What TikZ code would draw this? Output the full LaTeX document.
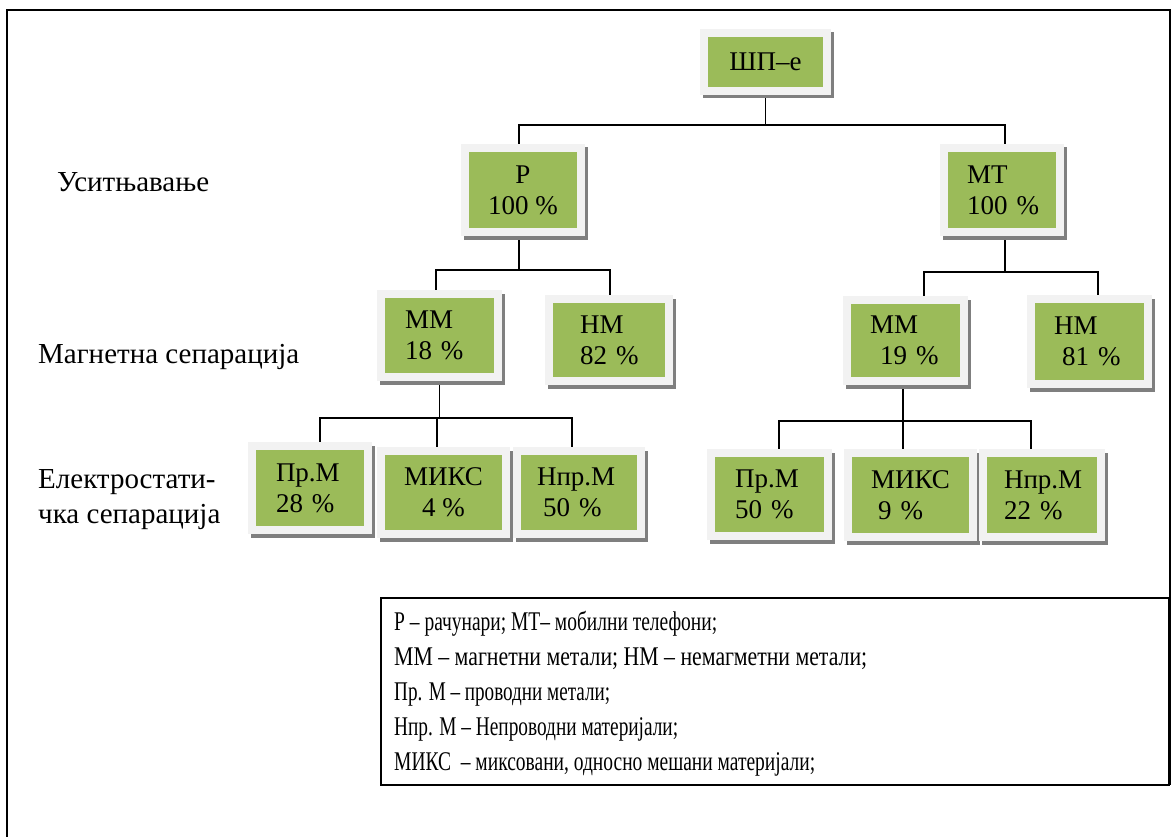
\documentclass[tikz,border=0pt]{standalone}
\usepackage{fontspec}
\usepackage{graphicx}
\setmainfont{Liberation Serif}
\usetikzlibrary{backgrounds}
\definecolor{boxgreen}{HTML}{9BBB59}
\definecolor{framegray}{HTML}{F2F2F2}
\definecolor{shadowgray}{HTML}{7F7F7F}
\newcommand{\legline}[2]{\resizebox{#1pt}{\height}{#2}}
\begin{document}
\begin{tikzpicture}[x=1pt,y=-1pt,
  every node/.style={font=\fontsize{27}{31}\selectfont},
  gbox/.style={fill=boxgreen, inner ysep=0pt,
    preaction={fill=shadowgray, draw=shadowgray, line width=16pt, transform canvas={shift={(3pt,-3.5pt)}}},
    preaction={draw=framegray, line width=16pt}},
  conn/.style={draw=black, line width=1.8pt},
  lbl/.style={anchor=west, inner sep=0pt, align=left, font=\fontsize{29}{35}\selectfont}]
\useasboundingbox (0,0) rectangle (1174,837);
% outer frame and legend box
\draw[line width=2.2pt] (7,837) -- (7,10) -- (1170,10) -- (1170,785);
\draw[line width=1.8pt] (381,598) rectangle (1169,785);

% tree nodes
\node[gbox, minimum width=115pt, minimum height=50pt, align=center] (root) at (765.5,62) {ШП–е};
\node[gbox, minimum width=108pt, minimum height=76pt, align=center] (P) at (523,190) {Р\\100~\%};
\node[gbox, minimum width=108pt, minimum height=76pt, text width=70pt, inner xsep=19pt, align=left] (MT) at (1002,190) {МТ\\100~\%};
\node[gbox, minimum width=109pt, minimum height=75pt, text width=69pt, inner xsep=20pt, align=left] (MML) at (439.5,335.5) {ММ\\18~\%};
\node[gbox, minimum width=112pt, minimum height=74pt, text width=58pt, inner xsep=27pt, align=left] (HML) at (609,340) {НМ\\82~\%};
\node[gbox, minimum width=109pt, minimum height=73pt, text width=71pt, inner xsep=19pt, align=left] (MMR) at (905.5,340.5) {ММ\\\hspace*{10pt}19~\%};
\node[gbox, minimum width=109pt, minimum height=77pt, text width=71pt, inner xsep=19pt, align=left] (HMR) at (1089.5,341.5) {НМ\\\hspace*{8pt}81~\%};
\node[gbox, minimum width=108pt, minimum height=76pt, text width=68pt, inner xsep=20pt, align=left] (PrML) at (310,488) {Пр.М\\28~\%};
\node[gbox, minimum width=117pt, minimum height=75pt, align=center] (MIKSL) at (443.5,492.5) {МИКС\\4~\%};
\node[gbox, minimum width=116pt, minimum height=75pt, text width=84pt, inner xsep=16pt, align=left] (NprML) at (579,492.5) {Нпр.М\\\hspace*{6pt}50~\%};
\node[gbox, minimum width=109pt, minimum height=75pt, text width=69pt, inner xsep=20pt, align=left] (PrMR) at (769.5,494.5) {Пр.М\\50~\%};
\node[gbox, minimum width=117pt, minimum height=76pt, text width=79pt, inner xsep=19pt, align=left] (MIKSR) at (910.5,495) {МИКС\\\hspace*{7pt}9~\%};
\node[gbox, minimum width=110pt, minimum height=76pt, text width=76pt, inner xsep=17pt, align=left] (NprMR) at (1042,495) {Нпр.М\\22~\%};

% level labels
\node[lbl] (l1) at (57,182) {Уситњавање};
\node[lbl] (l2) at (38,357) {Магнетна сепарација};
\node[lbl] (l3) at (38,499.5) {Електростати-\\чка сепарација};

% legend text
\node[anchor=north west, inner sep=0pt, align=left, font=\fontsize{27}{35}\selectfont] (leg) at (394,611)
 {\legline{323}{Р – рачунари; МТ– мобилни телефони;}\\
  \legline{473}{ММ – магнетни метали; НМ – немагметни метали;}\\
  \legline{216}{Пр. М – проводни метали;}\\
  \legline{284}{Нпр. М – Непроводни материјали;}\\
  \legline{421}{МИКС\ \ – миксовани, односно мешани материјали;}};

% connectors
\begin{pgfonlayer}{background}
\coordinate (b1) at (766,125);
\coordinate (b2) at (519,270);
\coordinate (b3) at (1005,272);
\coordinate (b4) at (439.5,418);
\coordinate (b5) at (903,421);
\draw[conn] (root.center) -- (root.center |- b1);
\draw[conn] ([xshift=-4pt]P.center) |- (b1) -| ([xshift=3pt]MT.center);
\draw[conn] ([xshift=-4pt]P.center) -- (b2);
\draw[conn] ([xshift=-3.5pt]MML.center) |- (b2) -| ([xshift=1pt]HML.center);
\draw[conn] ([xshift=3pt]MT.center) -- (b3);
\draw[conn] ([xshift=18.5pt]MMR.center) |- (b3) -| ([xshift=8.5pt]HMR.center);
\draw[conn] (MML.center) -- (b4);
\draw[conn] ([xshift=10pt]PrML.center) |- (b4) -| ([xshift=-7pt]NprML.center);
\draw[conn] ([xshift=-6.5pt]MIKSL.center) -- +(0,-74.5);
\draw[conn] ([xshift=-2.5pt]MMR.center) -- (b5);
\draw[conn] ([xshift=9.5pt]PrMR.center) |- (b5) -| ([xshift=-11pt]NprMR.center);
\draw[conn] ([xshift=-7.5pt]MIKSR.center) -- +(0,-74);
\end{pgfonlayer}
\end{tikzpicture}
\end{document}
